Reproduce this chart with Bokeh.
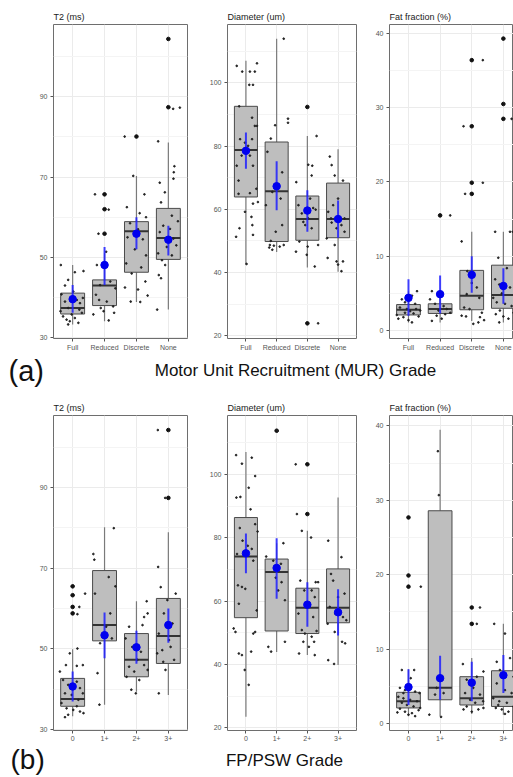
from bokeh.plotting import figure
from bokeh.models import Range1d, FixedTicker, Label, ColumnDataSource
from bokeh.layouts import column, row
from bokeh.embed import file_html
from bokeh.resources import INLINE

MUR_CATS = ["Full", "Reduced", "Discrete", "None"]
FP_CATS = ["0", "1+", "2+", "3+"]

# ---------------- (a) MUR grade ----------------
# T2 (ms)
A_T2_Q1 = [35.9, 38.0, 46.3, 49.5]
A_T2_MED = [37.4, 43.0, 56.5, 54.8]
A_T2_Q3 = [41.1, 44.4, 58.9, 62.2]
A_T2_WLO = [33.3, 34.1, 38.9, 37.0]
A_T2_WHI = [48.1, 51.0, 70.3, 78.6]
A_T2_MEAN = [39.6, 48.1, 55.9, 54.4]
A_T2_CILO = [36.2, 43.1, 52.0, 50.5]
A_T2_CIHI = [43.1, 52.6, 60.0, 57.9]
A_T2_OUT = [[], [65.7, 62.0, 55.9], [80.1], [104.4, 87.4]]
A_T2_JIT = [
    [(-0.37, 48.1), (-0.24, 43.0), (-0.14, 44.4), (0.07, 46.3), (0.34, 46.6), (-0.35, 40.8), (-0.24, 39.0),
     (-0.14, 37.4), (0.13, 39.4), (0.23, 38.6), (0.29, 36.2), (-0.3, 35.3), (-0.19, 34.5), (-0.09, 34.1),
     (0.07, 34.9), (0.18, 33.7), (-0.14, 33.3), (-0.03, 35.8), (-0.38, 36.6), (0.32, 39.9), (0.02, 41.5), (0.21, 37.0)],
    [(-0.3, 65.7), (0.13, 61.9), (-0.19, 55.9), (0.05, 51.4), (-0.24, 48.1), (-0.14, 43.1), (0.18, 44.0),
     (0.34, 42.3), (-0.27, 40.7), (-0.17, 39.4), (0.07, 39.0), (0.27, 37.8), (-0.35, 35.8), (-0.03, 36.6),
     (0.13, 34.3), (0.3, 36.2), (-0.12, 37.4)],
    [(-0.37, 80.1), (-0.1, 70.3), (0.25, 65.7), (-0.3, 62.5), (0.1, 61.0), (0.3, 60.0), (-0.2, 58.5), (0.05, 57.0),
     (-0.28, 55.0), (0.2, 54.5), (-0.05, 52.0), (0.3, 50.5), (-0.32, 48.5), (0.15, 47.5), (-0.15, 46.0),
     (0.28, 44.0), (-0.36, 42.5), (0.05, 42.0), (0.35, 40.5), (-0.18, 39.0), (0.12, 38.9)],
    [(-0.32, 78.9), (0.19, 72.7), (0.17, 71.2), (0.16, 69.6), (-0.27, 68.6), (-0.11, 66.2), (-0.23, 63.7),
     (0.11, 60.4), (-0.16, 57.9), (-0.27, 56.3), (0.16, 54.7), (-0.05, 52.6), (-0.32, 51.0), (-0.2, 49.3),
     (-0.1, 48.1), (-0.3, 45.6), (-0.23, 44.8), (-0.35, 37.0), (0.11, 50.5), (0.05, 57.1), (0.15, 87.0),
     (0.36, 87.3), (0.3, 59.0), (0.25, 53.0)],
]

# Diameter (um)
A_DI_Q1 = [63.9, 49.8, 50.2, 51.0]
A_DI_MED = [78.8, 65.7, 56.9, 56.9]
A_DI_Q3 = [92.6, 81.3, 64.2, 68.3]
A_DI_WLO = [42.5, 46.5, 41.6, 40.2]
A_DI_WHI = [107.0, 114.0, 83.2, 79.0]
A_DI_MEAN = [78.5, 67.3, 59.6, 56.9]
A_DI_CILO = [72.8, 59.7, 52.9, 51.0]
A_DI_CIHI = [84.3, 75.2, 66.0, 62.8]
A_DI_OUT = [[], [], [92.4, 23.9], []]
A_DI_JIT = [
    [(-0.3, 105.4), (-0.12, 103.6), (0.13, 103.6), (0.29, 103.6), (0.36, 106.2), (0.11, 99.4), (0.23, 99.4),
     (-0.22, 92.6), (0.2, 89.0), (0.29, 86.4), (0.36, 86.4), (-0.19, 82.2), (-0.03, 81.1), (0.07, 80.1),
     (0.2, 82.2), (-0.14, 77.0), (0.13, 77.0), (0.23, 73.8), (-0.3, 73.8), (-0.24, 69.1), (0.34, 66.5),
     (0.13, 65.1), (-0.24, 64.9), (0.39, 62.3), (0.23, 61.8), (-0.03, 59.2), (0.18, 57.6), (-0.21, 54.0),
     (0.21, 55.0), (-0.32, 51.3), (0.23, 51.9), (0.02, 42.7)],
    [(0.23, 114.0), (-0.05, 86.6), (0.37, 88.7), (0.37, 87.4), (-0.19, 82.4), (-0.3, 78.2), (0.18, 71.7),
     (-0.14, 65.5), (0.13, 63.4), (-0.35, 61.3), (0.18, 55.0), (-0.03, 52.9), (-0.19, 50.0), (0.1, 48.2),
     (-0.22, 48.7), (-0.09, 48.5), (0.23, 48.7), (-0.14, 47.2), (-0.24, 47.9)],
    [(-0.36, 68.6), (-0.29, 61.3), (-0.18, 58.7), (-0.13, 56.0), (-0.07, 55.0), (0.03, 57.1), (0.14, 54.0),
     (0.19, 60.4), (0.27, 59.9), (0.09, 63.4), (0.03, 74.1), (0.16, 73.8), (0.14, 70.7), (0.3, 83.2),
     (-0.26, 49.8), (0.01, 48.2), (-0.02, 45.6), (-0.37, 46.6), (0.35, 48.7), (0.24, 41.9), (0.35, 23.9)],
    [(-0.27, 76.7), (-0.21, 74.0), (-0.11, 70.7), (0.16, 69.1), (0.0, 63.4), (-0.16, 61.3), (-0.32, 59.2),
     (-0.23, 57.1), (-0.21, 55.8), (-0.05, 54.0), (0.11, 55.0), (0.21, 57.1), (-0.37, 50.8), (-0.11, 48.7),
     (-0.34, 44.6), (-0.05, 43.5), (0.0, 42.5), (0.11, 40.4), (0.16, 43.5), (0.21, 52.9)],
]

# Fat fraction (%)
A_FF_Q1 = [2.1, 2.3, 2.8, 3.0]
A_FF_MED = [2.8, 2.9, 4.7, 4.8]
A_FF_Q3 = [3.5, 3.6, 8.1, 8.8]
A_FF_WLO = [1.1, 1.1, 1.3, 1.1]
A_FF_WHI = [5.3, 5.3, 13.3, 13.3]
A_FF_MEAN = [4.4, 4.9, 7.5, 6.0]
A_FF_CILO = [2.0, 2.3, 5.1, 3.6]
A_FF_CIHI = [6.9, 7.4, 10.0, 8.4]
A_FF_OUT = [[], [15.5], [36.4, 27.5, 19.9, 18.4], [39.3, 30.5, 28.5]]
A_FF_JIT = [
    [(0.27, 5.3), (0.11, 4.7), (-0.21, 4.2), (-0.11, 3.8), (0.21, 3.6), (-0.27, 3.1), (-0.05, 2.9), (0.05, 2.6),
     (0.16, 2.3), (-0.37, 2.1), (-0.32, 1.6), (-0.16, 1.8), (0.0, 1.4), (0.11, 1.1), (0.32, 1.9), (0.37, 2.7),
     (-0.11, 2.4), (0.24, 2.9)],
    [(0.32, 15.5), (-0.26, 5.3), (-0.32, 4.2), (-0.16, 3.6), (0.11, 3.3), (0.21, 2.9), (-0.05, 2.7),
     (-0.11, 2.0), (0.05, 1.6), (-0.26, 1.3), (0.32, 2.4), (0.16, 2.2)],
    [(-0.26, 27.5), (-0.21, 18.4), (0.35, 19.9), (0.35, 36.4), (-0.32, 12.0), (-0.14, 8.0), (0.0, 6.4),
     (0.16, 5.8), (0.24, 4.4), (-0.16, 4.9), (-0.24, 3.1), (-0.07, 2.9), (-0.32, 2.0), (-0.18, 1.9),
     (0.26, 1.8), (0.39, 1.4), (0.21, 1.1), (0.05, 0.9), (0.32, 2.4)],
    [(0.26, 28.5), (-0.26, 13.3), (0.21, 13.3), (0.3, 13.3), (-0.16, 9.8), (0.11, 8.4), (-0.26, 6.9),
     (-0.13, 6.2), (0.21, 5.8), (-0.05, 5.0), (-0.32, 4.4), (-0.21, 3.8), (0.05, 3.6), (0.26, 3.3),
     (-0.11, 2.7), (-0.24, 2.2), (0.0, 1.9), (0.16, 1.6), (-0.13, 1.1), (0.32, 2.4)],
]

# ---------------- (b) FP/PSW grade ----------------
# T2 (ms)
B_T2_Q1 = [35.8, 52.0, 43.1, 46.4]
B_T2_MED = [37.6, 55.9, 47.3, 53.2]
B_T2_Q3 = [42.7, 69.4, 53.8, 62.5]
B_T2_WLO = [33.3, 36.2, 39.4, 38.6]
B_T2_WHI = [49.9, 80.1, 61.8, 78.9]
B_T2_MEAN = [40.7, 53.4, 50.4, 55.9]
B_T2_CILO = [37.0, 47.7, 46.3, 51.5]
B_T2_CIHI = [44.4, 59.0, 54.5, 60.0]
B_T2_OUT = [[65.5, 63.3, 60.4, 58.8], [], [], [104.2, 87.4]]
B_T2_JIT = [
    [(-0.4, 44.4), (-0.21, 46.0), (0.13, 45.8), (0.32, 46.0), (0.15, 50.1), (-0.09, 48.9), (0.21, 60.4),
     (0.15, 58.6), (0.39, 63.7), (-0.3, 42.3), (-0.14, 41.1), (0.13, 41.9), (0.23, 40.3), (-0.24, 39.0),
     (-0.03, 38.6), (0.18, 37.4), (-0.35, 36.6), (-0.19, 35.3), (0.02, 34.9), (0.23, 34.5), (0.34, 34.1),
     (-0.14, 33.7), (-0.24, 33.1), (0.13, 35.8), (0.32, 39.0)],
    [(-0.35, 73.5), (-0.32, 72.1), (0.29, 79.9), (0.34, 65.5), (-0.22, 44.0), (-0.16, 36.2), (0.18, 58.8),
     (0.05, 55.5), (-0.14, 51.4), (0.23, 52.6), (-0.3, 63.7), (0.13, 67.8)],
    [(-0.23, 55.5), (0.24, 57.9), (0.35, 58.8), (0.19, 55.9), (-0.34, 52.6), (-0.13, 50.5), (0.14, 49.3),
     (0.03, 47.3), (-0.23, 45.6), (0.24, 46.0), (-0.07, 44.4), (-0.31, 43.1), (0.09, 42.3), (-0.16, 39.9),
     (-0.02, 39.0), (0.35, 44.8), (0.32, 61.8)],
    [(-0.33, 104.2), (-0.1, 87.4), (-0.32, 70.3), (-0.24, 65.3), (0.23, 63.7), (-0.03, 62.1), (-0.14, 58.8),
     (0.13, 56.3), (-0.3, 53.8), (0.02, 52.2), (-0.19, 49.7), (-0.35, 48.9), (0.18, 47.3), (-0.09, 44.8),
     (-0.16, 46.8), (-0.3, 39.0), (0.07, 50.5)],
]

# Diameter (um)
B_DI_Q1 = [54.8, 50.6, 49.8, 53.2]
B_DI_MED = [74.1, 69.2, 57.9, 57.9]
B_DI_Q3 = [86.4, 73.3, 64.1, 70.2]
B_DI_WLO = [23.5, 44.0, 43.0, 39.9]
B_DI_WHI = [107.1, 78.3, 82.2, 92.7]
B_DI_MEAN = [75.1, 70.5, 58.9, 56.5]
B_DI_CILO = [68.8, 60.8, 51.9, 49.2]
B_DI_CIHI = [81.4, 79.9, 66.0, 63.8]
B_DI_OUT = [[], [113.8], [103.2, 87.5], []]
B_DI_JIT = [
    [(-0.32, 106.1), (-0.13, 103.4), (0.19, 105.3), (0.09, 95.8), (0.3, 99.5), (-0.31, 92.7), (-0.18, 92.9),
     (0.15, 89.0), (0.38, 82.0), (0.3, 84.3), (-0.2, 83.1), (-0.11, 79.1), (0.06, 77.5), (0.19, 76.5),
     (-0.29, 74.9), (0.24, 72.8), (-0.26, 65.0), (-0.13, 64.5), (-0.02, 63.9), (-0.23, 59.2), (0.35, 57.1),
     (-0.4, 51.4), (-0.34, 50.3), (0.24, 49.8), (0.3, 50.3), (-0.23, 43.5), (-0.13, 43.0), (0.17, 44.1),
     (-0.04, 38.3), (0.09, 33.6)],
    [(0.03, 113.8), (-0.34, 74.1), (0.22, 78.3), (-0.11, 72.8), (0.14, 71.8), (-0.03, 67.4), (0.16, 66.0),
     (0.05, 63.4), (0.27, 60.3), (-0.27, 45.6), (-0.18, 44.1), (0.27, 47.2)],
    [(-0.38, 103.2), (-0.34, 87.5), (-0.18, 82.2), (0.12, 80.1), (-0.23, 66.5), (0.27, 66.0), (0.35, 66.0),
     (-0.1, 63.4), (0.14, 63.4), (0.24, 61.3), (0.01, 58.2), (-0.29, 56.1), (0.19, 55.0), (-0.18, 50.9),
     (-0.08, 49.8), (0.3, 50.6), (0.14, 48.8), (0.22, 47.2), (-0.13, 47.2), (0.05, 45.6), (0.24, 43.0),
     (-0.27, 43.5)],
    [(-0.32, 79.1), (0.11, 73.9), (-0.23, 68.6), (-0.16, 66.5), (0.21, 62.4), (0.0, 61.3), (-0.27, 58.2),
     (-0.09, 56.1), (0.16, 55.0), (0.27, 54.0), (-0.34, 52.9), (-0.11, 50.3), (0.13, 47.2), (0.23, 46.7),
     (-0.32, 41.4), (-0.13, 40.2)],
]

# Fat fraction (%)
B_FF_Q1 = [2.1, 3.2, 2.5, 2.3]
B_FF_MED = [3.0, 4.8, 3.4, 3.6]
B_FF_Q3 = [4.2, 28.6, 6.3, 7.1]
B_FF_WLO = [1.0, 1.0, 1.3, 1.2]
B_FF_WHI = [7.3, 39.5, 8.8, 13.4]
B_FF_MEAN = [4.9, 6.1, 5.5, 6.5]
B_FF_CILO = [2.5, 3.2, 3.0, 4.1]
B_FF_CIHI = [7.3, 9.1, 8.3, 9.2]
B_FF_OUT = [[27.7, 19.9, 18.4], [], [15.6, 13.4], []]
B_FF_JIT = [
    [(0.18, 7.2), (-0.21, 7.2), (0.39, 18.4), (-0.27, 4.8), (-0.11, 4.5), (0.21, 4.3), (0.35, 4.1),
     (-0.32, 3.6), (-0.16, 3.4), (0.05, 3.2), (0.27, 3.0), (-0.21, 2.8), (-0.05, 2.5), (0.16, 2.3),
     (-0.27, 2.0), (-0.11, 1.6), (0.11, 1.4), (0.32, 1.8), (-0.35, 1.5), (0.0, 1.2), (0.21, 1.0),
     (0.37, 2.1), (-0.16, 4.1), (0.07, 6.1)],
    [(-0.07, 36.6), (-0.04, 30.7), (0.03, 0.9), (-0.34, 1.2), (-0.11, 4.8), (0.11, 4.1), (-0.16, 3.9)],
    [(0.26, 15.6), (0.16, 13.4), (-0.28, 8.0), (0.37, 7.0), (-0.16, 5.9), (0.16, 6.3), (0.05, 4.8),
     (-0.21, 4.1), (0.26, 3.9), (-0.05, 3.2), (0.11, 2.8), (-0.16, 2.3), (0.37, 2.1), (0.21, 1.9),
     (0.0, 1.6), (-0.26, 1.9), (0.36, 3.0)],
    [(-0.29, 13.4), (-0.21, 8.3), (0.05, 12.1), (0.21, 8.8), (-0.11, 7.2), (0.32, 6.3), (-0.21, 5.4),
     (0.05, 4.5), (0.26, 4.1), (-0.32, 3.4), (-0.13, 3.0), (0.11, 2.8), (-0.24, 2.1), (-0.05, 1.9),
     (0.16, 1.6), (0.32, 2.3), (0.05, 1.3), (-0.16, 2.5)],
]

T2_TICKS = [30, 50, 70, 90, 110]
T2_MINOR = [40, 60, 80, 100]
DI_TICKS = [20, 40, 60, 80, 100, 120]
DI_MINOR = [30, 50, 70, 90, 110]
FF_TICKS = [0, 10, 20, 30, 40]
FF_MINOR = [5, 15, 25, 35]

FONT = "Liberation Sans"
BOX_W = 0.75


def panel(title, cats, q1, med, q3, wlo, whi, mean, cilo, cihi, outl, jit,
          yr, ticks, minor, xr, width, height, bl, br, bt, bb):
    p = figure(width=width, height=height, x_range=Range1d(*xr), y_range=Range1d(*yr),
               toolbar_location=None, output_backend="svg",
               min_border_left=bl, min_border_right=br, min_border_top=bt, min_border_bottom=bb)
    p.background_fill_color = "white"
    p.border_fill_color = "white"
    p.outline_line_color = "#6e6e6e"
    p.outline_line_width = 1
    p.title.text = title
    p.title.align = "left"
    p.title.text_font = FONT
    p.title.text_font_size = "9px"
    p.title.text_font_style = "normal"
    p.title.text_color = "#1a1a1a"
    p.title.standoff = 5
    p.title.offset = 0

    pos = list(range(1, len(cats) + 1))
    p.xaxis.ticker = FixedTicker(ticks=pos)
    p.xaxis.major_label_overrides = {i: c for i, c in zip(pos, cats)}
    p.yaxis.ticker = FixedTicker(ticks=ticks, minor_ticks=minor)
    for ax in (p.xaxis, p.yaxis):
        ax.axis_line_color = None
        ax.major_tick_line_color = "#555555"
        ax.major_tick_out = 3
        ax.major_tick_in = 0
        ax.minor_tick_line_color = None
        ax.major_label_text_font = FONT
        ax.major_label_text_font_size = "7px"
        ax.major_label_text_color = "#555555"
        ax.major_label_standoff = 2
    p.xgrid.grid_line_color = "#ebebeb"
    p.ygrid.grid_line_color = "#ebebeb"
    p.ygrid.minor_grid_line_color = "#f4f4f4"

    src = ColumnDataSource(dict(x=pos, q1=q1, med=med, q3=q3, wlo=wlo, whi=whi,
                                mean=mean, cilo=cilo, cihi=cihi,
                                x0=[x - BOX_W / 2 for x in pos], x1=[x + BOX_W / 2 for x in pos]))
    p.segment(x0="x", x1="x", y0="q3", y1="whi", source=src, line_color="#7a7a7a", line_width=1.2)
    p.segment(x0="x", x1="x", y0="q1", y1="wlo", source=src, line_color="#7a7a7a", line_width=1.2)
    p.vbar(x="x", width=BOX_W, top="q3", bottom="q1", source=src,
           fill_color="#bebebe", line_color="#4a4a4a", line_width=1)
    p.segment(x0="x0", x1="x1", y0="med", y1="med", source=src, line_color="#333333", line_width=2)

    ox, oy = [], []
    for x, vals in zip(pos, outl):
        for v in vals:
            ox.append(x)
            oy.append(v)
    p.scatter(ox, oy, size=3.6, color="#111111")

    jx, jy = [], []
    for x, pts in zip(pos, jit):
        for off, v in pts:
            jx.append(x + off)
            jy.append(v)
    p.scatter(jx, jy, size=1.7, color="#222222")

    p.segment(x0="x", x1="x", y0="cilo", y1="cihi", source=src, line_color="#2020ff",
              line_alpha=0.85, line_width=2)
    p.scatter(x="x", y="mean", source=src, size=7.5, color="#0000ee")
    return p


WIDTHS = [206, 166, 141]
BL = [53, 20, 17]
BR = [19, 16, 0]
XR_FULL = (0.4, 4.6)
XR_CUT = (0.4, 4.32)


def make_row(cats, data, height, bt, bb):
    figs = []
    for i, d in enumerate(data):
        xr = XR_CUT if i == 2 else XR_FULL
        figs.append(panel(*d[:1], cats, *d[1:], xr=xr, width=WIDTHS[i], height=height,
                          bl=BL[i], br=BR[i], bt=bt, bb=bb))
    return row(*figs)


row_a = make_row(MUR_CATS, [
    ("T2 (ms)", A_T2_Q1, A_T2_MED, A_T2_Q3, A_T2_WLO, A_T2_WHI, A_T2_MEAN, A_T2_CILO, A_T2_CIHI,
     A_T2_OUT, A_T2_JIT, (29.8, 108.0), T2_TICKS, T2_MINOR),
    ("Diameter (um)", A_DI_Q1, A_DI_MED, A_DI_Q3, A_DI_WLO, A_DI_WHI, A_DI_MEAN, A_DI_CILO, A_DI_CIHI,
     A_DI_OUT, A_DI_JIT, (19.1, 118.5), DI_TICKS, DI_MINOR),
    ("Fat fraction (%)", A_FF_Q1, A_FF_MED, A_FF_Q3, A_FF_WLO, A_FF_WHI, A_FF_MEAN, A_FF_CILO, A_FF_CIHI,
     A_FF_OUT, A_FF_JIT, (-1.07, 41.2), FF_TICKS, FF_MINOR),
], height=353, bt=24, bb=12)
row_b = make_row(FP_CATS, [
    ("T2 (ms)", B_T2_Q1, B_T2_MED, B_T2_Q3, B_T2_WLO, B_T2_WHI, B_T2_MEAN, B_T2_CILO, B_T2_CIHI,
     B_T2_OUT, B_T2_JIT, (29.8, 107.8), T2_TICKS, T2_MINOR),
    ("Diameter (um)", B_DI_Q1, B_DI_MED, B_DI_Q3, B_DI_WLO, B_DI_WHI, B_DI_MEAN, B_DI_CILO, B_DI_CIHI,
     B_DI_OUT, B_DI_JIT, (19.2, 118.6), DI_TICKS, DI_MINOR),
    ("Fat fraction (%)", B_FF_Q1, B_FF_MED, B_FF_Q3, B_FF_WLO, B_FF_WHI, B_FF_MEAN, B_FF_CILO, B_FF_CIHI,
     B_FF_OUT, B_FF_JIT, (-0.93, 41.4), FF_TICKS, FF_MINOR),
], height=345, bt=16, bb=12)


def strip(height, labels):
    w = sum(WIDTHS)
    s = figure(width=w, height=height, x_range=Range1d(0, w), y_range=Range1d(0, height),
               toolbar_location=None, output_backend="svg", min_border=0,
               x_axis_location=None, y_axis_location=None)
    s.outline_line_color = None
    s.grid.visible = False
    s.border_fill_color = "white"
    for text, x, y, size, align in labels:
        s.add_layout(Label(x=x, y=y, text=text, text_font=FONT, text_font_size=size,
                           text_color="#111111", text_align=align, text_baseline="middle"))
    return s


strip_a = strip(45, [("(a)", 8, 28, "29px", "left"),
                     ("Motor Unit Recruitment (MUR) Grade", 295, 28, "17px", "center")])
strip_b = strip(34, [("(b)", 10, 18, "28px", "left"),
                     ("FP/PSW Grade", 284, 17.5, "17px", "center")])

layout = column(row_a, strip_a, row_b, strip_b)
open("out.html", "w").write(file_html(layout, INLINE))
